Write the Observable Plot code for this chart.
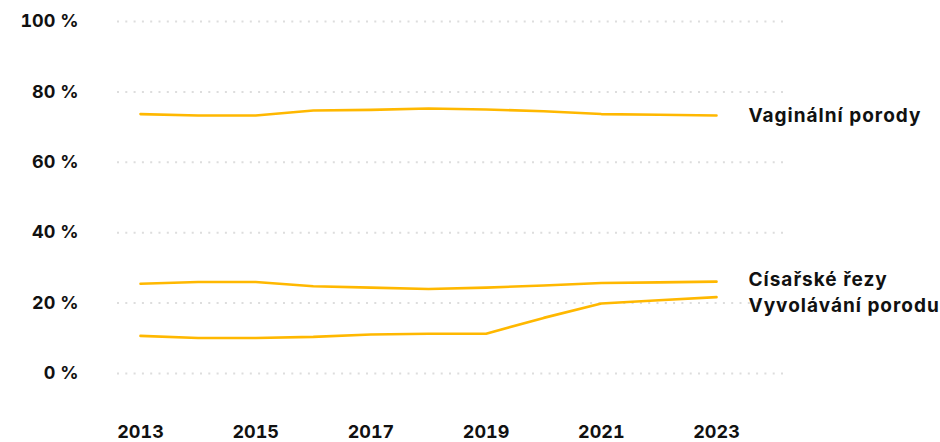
<!DOCTYPE html>
<html>
<head>
<meta charset="utf-8">
<script src="https://cdn.jsdelivr.net/npm/d3@7"></script>
<script src="https://cdn.jsdelivr.net/npm/@observablehq/plot@0.6"></script>
<style>
  html, body { margin: 0; padding: 0; background: #fff; }
  #chart svg { display: block; }
  .series-label text { letter-spacing: 1px; }
</style>
</head>
<body>
<div id="chart"></div>
<script>
const years = [2013, 2014, 2015, 2016, 2017, 2018, 2019, 2020, 2021, 2022, 2023];
const vaginalni = [73.7, 73.3, 73.3, 74.7, 74.9, 75.3, 75.0, 74.5, 73.7, 73.5, 73.3];
const cisarske = [25.5, 26.0, 26.0, 24.8, 24.4, 24.0, 24.4, 25.0, 25.7, 25.9, 26.1];
const vyvolavani = [10.7, 10.1, 10.1, 10.4, 11.1, 11.3, 11.3, 15.8, 19.9, 20.8, 21.7];
const seriesNames = ["Vaginální porody", "Císařské řezy", "Vyvolávání porodu"];
const seriesValues = [vaginalni, cisarske, vyvolavani];
const yTicks = [0, 20, 40, 60, 80, 100];
const xTicks = [2013, 2015, 2017, 2019, 2021, 2023];

const rows = [];
seriesNames.forEach((name, i) => {
  years.forEach((yr, j) => rows.push({series: name, year: yr, value: seriesValues[i][j]}));
});
const lastRows = seriesNames.map((name, i) => ({series: name, year: years[years.length - 1], value: seriesValues[i][years.length - 1]}));

const labelDy = {"Vaginální porody": 0, "Císařské řezy": -2, "Vyvolávání porodu": 9};

const color = "#FFB800";
const font = "Inter, 'Noto Sans', sans-serif";

const chart = Plot.plot({
  width: 940,
  height: 442,
  marginLeft: 117,
  marginRight: 153,
  marginTop: 21,
  marginBottom: 69,
  style: {fontFamily: font, fontSize: "18px", fontWeight: 700, color: "#111", background: "#fff"},
  x: {domain: [2013, 2023], insetLeft: 23, insetRight: 71, label: null},
  y: {domain: [0, 100], label: null},
  marks: [
    Plot.ruleY(yTicks, {stroke: "#dddddd", strokeWidth: 2, strokeDasharray: "2,6.3"}),
    Plot.axisY(yTicks, {tickSize: 0, tickPadding: 39, tickFormat: d => d + " %", fontSize: 18, fontWeight: 700, fill: "#111", label: null}),
    Plot.axisX(xTicks, {tickSize: 0, tickPadding: 52, tickFormat: d => String(d), fontSize: 18, fontWeight: 700, fill: "#111", label: null}),
    Plot.lineY(rows, {x: "year", y: "value", z: "series", stroke: color, strokeWidth: 2.6, curve: "linear"}),
    ...seriesNames.map(name => Plot.text(lastRows.filter(d => d.series === name), {
      x: "year", y: "value", text: "series", textAnchor: "start", dx: 32, dy: labelDy[name],
      fontSize: 19, fontWeight: 700, fill: "#111", className: "series-label"
    }))
  ]
});
document.getElementById("chart").appendChild(chart);
</script>
</body>
</html>
